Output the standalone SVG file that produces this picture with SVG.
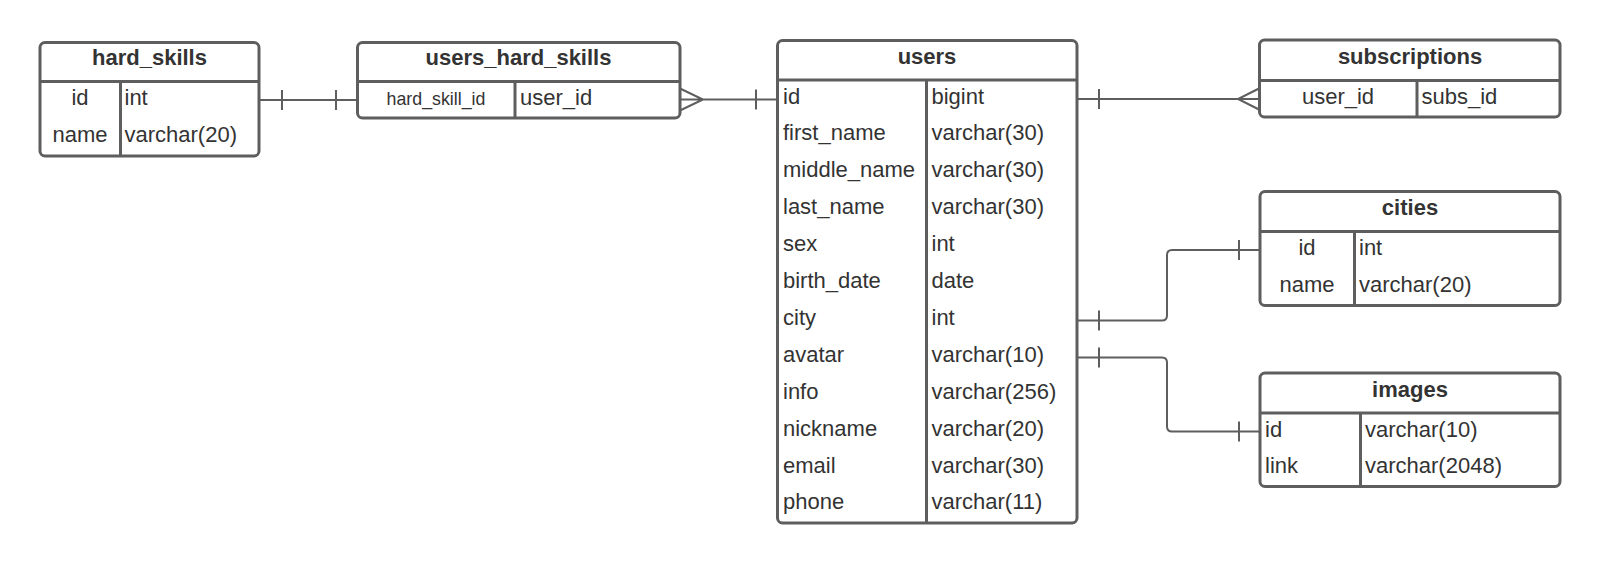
<svg xmlns="http://www.w3.org/2000/svg" width="1600" height="564" viewBox="0 0 1600 564">
<style>
.box{fill:#ffffff;stroke:#5e5e5e;stroke-width:3}
.ln{stroke:#5e5e5e;stroke-width:3;fill:none}
.cn{stroke:#5e5e5e;stroke-width:2;fill:none}
text{font-family:"Liberation Sans",Arial,sans-serif;font-size:22px;fill:#333333}
.t{font-weight:bold;text-anchor:middle}
.c{text-anchor:middle}
.s{font-size:17.8px}
</style>
<rect width="1600" height="564" fill="#ffffff"/>
<g id="connectors">
  <path class="cn" d="M259 100 H357 M282 90 V110 M336 90 V110"/>
  <path class="cn" d="M680 99.5 H777 M680 88.5 L703 99.5 L680 110.5 M756 89.5 V109.5"/>
  <path class="cn" d="M1077 99 H1259 M1099 89 V109 M1259 88.5 L1238 99 L1259 109.5"/>
  <path class="cn" d="M1077 320.5 H1162 Q1167 320.5 1167 315.5 V255 Q1167 250 1172 250 H1260 M1099 310.5 V330.5 M1239 240 V260"/>
  <path class="cn" d="M1077 357.5 H1162 Q1167 357.5 1167 362.5 V426.5 Q1167 431.5 1172 431.5 H1260 M1099 347.5 V367.5 M1239 421.5 V441.5"/>
</g>
<g id="hard_skills">
  <rect class="box" x="40" y="42.5" width="219" height="113.5" rx="5"/>
  <path class="ln" d="M40 81.5 H259 M120.5 81.5 V156"/>
  <text class="t" x="149.5" y="65">hard_skills</text>
  <text class="c" x="80" y="105">id</text>
  <text x="124.5" y="105">int</text>
  <text class="c" x="80" y="142">name</text>
  <text x="124.5" y="142">varchar(20)</text>
</g>
<g id="users_hard_skills">
  <rect class="box" x="357.5" y="42.5" width="322.5" height="75.5" rx="5"/>
  <path class="ln" d="M357.5 81.5 H680 M515 81.5 V118"/>
  <text class="t" x="518.5" y="65">users_hard_skills</text>
  <text class="c s" x="436" y="105">hard_skill_id</text>
  <text x="520" y="105">user_id</text>
</g>
<g id="users">
  <rect class="box" x="777.5" y="40.5" width="299.5" height="482.5" rx="5"/>
  <path class="ln" d="M777.5 80 H1077 M926.5 80 V523"/>
  <text class="t" x="927" y="64">users</text>
  <text x="783" y="103.5">id</text><text x="931.5" y="103.5">bigint</text>
  <text x="783" y="140.4">first_name</text><text x="931.5" y="140.4">varchar(30)</text>
  <text x="783" y="177.3">middle_name</text><text x="931.5" y="177.3">varchar(30)</text>
  <text x="783" y="214.2">last_name</text><text x="931.5" y="214.2">varchar(30)</text>
  <text x="783" y="251.1">sex</text><text x="931.5" y="251.1">int</text>
  <text x="783" y="288">birth_date</text><text x="931.5" y="288">date</text>
  <text x="783" y="324.9">city</text><text x="931.5" y="324.9">int</text>
  <text x="783" y="361.8">avatar</text><text x="931.5" y="361.8">varchar(10)</text>
  <text x="783" y="398.7">info</text><text x="931.5" y="398.7">varchar(256)</text>
  <text x="783" y="435.6">nickname</text><text x="931.5" y="435.6">varchar(20)</text>
  <text x="783" y="472.5">email</text><text x="931.5" y="472.5">varchar(30)</text>
  <text x="783" y="509.4">phone</text><text x="931.5" y="509.4">varchar(11)</text>
</g>
<g id="subscriptions">
  <rect class="box" x="1259.5" y="40" width="300.5" height="77" rx="5"/>
  <path class="ln" d="M1259.5 80.5 H1560 M1417 80.5 V117"/>
  <text class="t" x="1410" y="64">subscriptions</text>
  <text class="c" x="1338" y="103.5">user_id</text>
  <text x="1421.5" y="103.5">subs_id</text>
</g>
<g id="cities">
  <rect class="box" x="1260" y="191.5" width="300" height="114" rx="5"/>
  <path class="ln" d="M1260 231.5 H1560 M1354.5 231.5 V305.5"/>
  <text class="t" x="1410" y="215">cities</text>
  <text class="c" x="1307" y="255">id</text>
  <text x="1359" y="255">int</text>
  <text class="c" x="1307" y="292">name</text>
  <text x="1359" y="292">varchar(20)</text>
</g>
<g id="images">
  <rect class="box" x="1260" y="373" width="300" height="113.5" rx="5"/>
  <path class="ln" d="M1260 413 H1560 M1360.5 413 V486.5"/>
  <text class="t" x="1410" y="397">images</text>
  <text x="1265" y="436.5">id</text>
  <text x="1365" y="436.5">varchar(10)</text>
  <text x="1265" y="473.3">link</text>
  <text x="1365" y="473.3">varchar(2048)</text>
</g>
</svg>
